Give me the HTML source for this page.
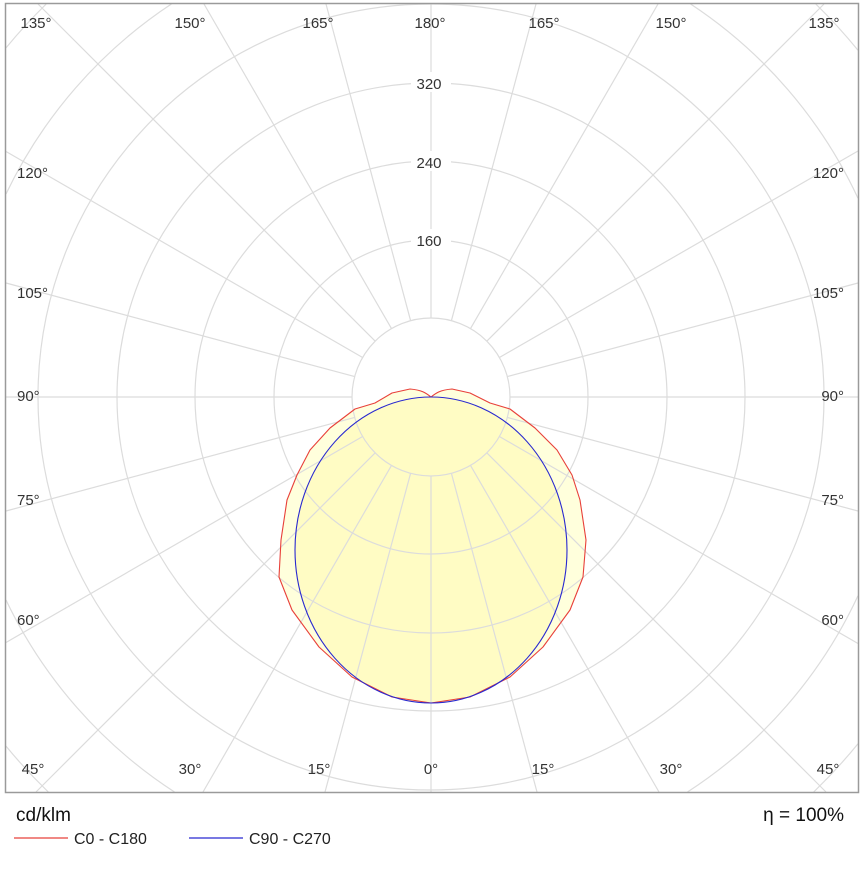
<!DOCTYPE html>
<html><head><meta charset="utf-8"><style>
html,body{margin:0;padding:0;background:#fff;width:867px;height:879px;overflow:hidden;}
svg{display:block;font-family:"Liberation Sans",Arial,sans-serif;}
</style></head><body>
<svg width="867" height="879" viewBox="0 0 867 879" xmlns="http://www.w3.org/2000/svg">
<rect x="0" y="0" width="867" height="879" fill="#fff"/>
<path d="M431,397 C436,393 440,390 452,389 L470,393 L490,403 L510,409 L535,428 L557,450 L572,475 L580,500 L586,540 L583,577 L570,610 L543,647 L510,677 L470,697 L431,703 L392,697 L352,677 L319,647 L292,610 L279,577 L281,540 L287,500 L297,475 L310,450 L330,428 L355,409 L375,403 L392,393 L410,389 C422,390 426,393 431,397 Z" fill="#ffffdc" stroke="none"/>
<ellipse cx="431" cy="550" rx="136" ry="153" fill="#fffcc4"/>
<g fill="none" stroke="#dcdcdc" stroke-width="1.2">
<circle cx="431" cy="397" r="79"/><circle cx="431" cy="397" r="157"/><circle cx="431" cy="397" r="236"/><circle cx="431" cy="397" r="314"/><circle cx="431" cy="397" r="393"/>
<path d="M690.6,4 A471,471 0 0 1 858,198.2 M858,595.8 A471,471 0 0 1 687.5,792 M174.5,792 A471,471 0 0 1 6,600 M6,194 A471,471 0 0 1 171.4,4"/>
<path d="M815.8,4 A550,550 0 0 1 858,50.3 M858,743.7 A550,550 0 0 1 813.7,792 M48.3,792 A550,550 0 0 1 6,746.1 M6,47.9 A550,550 0 0 1 46.2,4"/>
<path d="M431,476 L431,792 M451.4,473.3 L537,792 M470.5,465.4 L659,792 M486.9,452.9 L826,792 M499.4,436.5 L858,643.5 M507.3,417.4 L858,511 M510,397 L858,397 M507.3,376.6 L858,283 M499.4,357.5 L858,151 M486.9,341.1 L824,4 M470.5,328.6 L658,4 M451.4,320.7 L536,4 M431,318 L431,4 M410.6,320.7 L326,4 M391.5,328.6 L204,4 M375.1,341.1 L38,4 M362.6,357.5 L6,151.5 M354.7,376.6 L6,283 M352,397 L6,397 M354.7,417.4 L6,511 M362.6,436.5 L6,642.5 M375.1,452.9 L36,792 M391.5,465.4 L203,792 M410.6,473.3 L325,792"/>
</g>
<path d="M431,397 C436,393 440,390 452,389 L470,393 L490,403 L510,409 L535,428 L557,450 L572,475 L580,500 L586,540 L583,577 L570,610 L543,647 L510,677 L470,697 L431,703 L392,697 L352,677 L319,647 L292,610 L279,577 L281,540 L287,500 L297,475 L310,450 L330,428 L355,409 L375,403 L392,393 L410,389 C422,390 426,393 431,397 Z" fill="none" stroke="#e8403a" stroke-width="1.1" stroke-linejoin="round"/>
<ellipse cx="431" cy="550" rx="136" ry="153" fill="none" stroke="#2828d0" stroke-width="1.1"/>
<rect x="5.5" y="3.5" width="853" height="789" fill="none" stroke="#9a9a9a" stroke-width="1.5"/>
<g font-size="15" fill="#333">
<g text-anchor="middle">
<rect x="411" y="72" width="40" height="20" fill="#fff"/><text x="429" y="89">320</text>
<rect x="411" y="151" width="40" height="20" fill="#fff"/><text x="429" y="168">240</text>
<rect x="411" y="229" width="40" height="20" fill="#fff"/><text x="429" y="246">160</text>
<text x="36" y="28">135°</text><text x="190" y="28">150°</text><text x="318" y="28">165°</text><text x="430" y="28">180°</text><text x="544" y="28">165°</text><text x="671" y="28">150°</text><text x="824" y="28">135°</text>
<text x="33" y="774">45°</text><text x="190" y="774">30°</text><text x="319" y="774">15°</text><text x="431" y="774">0°</text><text x="543" y="774">15°</text><text x="671" y="774">30°</text><text x="828" y="774">45°</text>
</g>
<g text-anchor="start">
<text x="17" y="178">120°</text><text x="17" y="298">105°</text><text x="17" y="401">90°</text><text x="17" y="505">75°</text><text x="17" y="625">60°</text>
</g>
<g text-anchor="end">
<text x="844" y="178">120°</text><text x="844" y="298">105°</text><text x="844" y="401">90°</text><text x="844" y="505">75°</text><text x="844" y="625">60°</text>
</g>
</g>
<text x="16" y="821" font-size="19" fill="#111">cd/klm</text>
<text x="844" y="821" font-size="19" fill="#111" text-anchor="end">η = 100%</text>
<line x1="14" y1="838" x2="68" y2="838" stroke="#e8403a" stroke-width="1.2"/>
<text x="74" y="844" font-size="16" fill="#222">C0 - C180</text>
<line x1="189" y1="838" x2="243" y2="838" stroke="#2828d0" stroke-width="1.2"/>
<text x="249" y="844" font-size="16" fill="#222">C90 - C270</text>
</svg>
</body></html>
